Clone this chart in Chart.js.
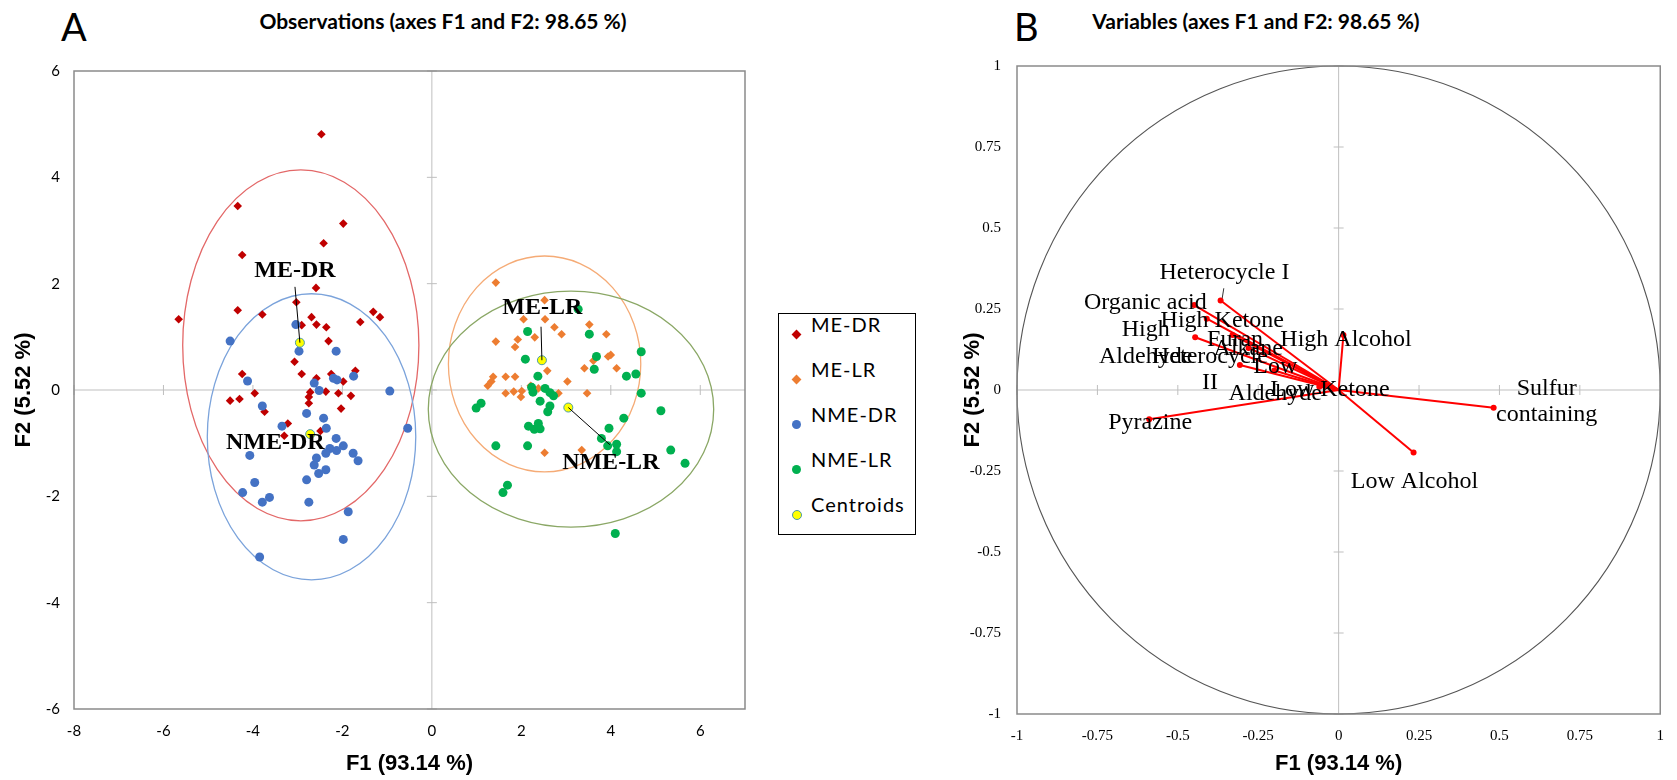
<!DOCTYPE html>
<html>
<head>
<meta charset="utf-8">
<script src="https://cdn.jsdelivr.net/npm/chart.js@4.4.1/dist/chart.umd.min.js"></script>
<style>
  html, body { margin: 0; padding: 0; background: #fff; }
  #page { position: relative; width: 1677px; height: 780px; overflow: hidden; }
  #obsBox { position: absolute; left: 0; top: 0; width: 760px; height: 780px; }
  #varBox { position: absolute; left: 930px; top: 0; width: 747px; height: 780px; }
  .panel { position: absolute; top: 7px; font: 38px Lato; line-height: 38px; color: #000; }
  .title { position: absolute; top: 9px; width: 600px; text-align: center; font: bold 21px Lato; line-height: 24px; color: #000; }
  #legend { position: absolute; left: 778px; top: 313px; width: 136px; height: 220px; border: 1.5px solid #000; background: #fff; }
  .item { position: relative; height: 45px; line-height: 45px; font: 20px Lato; letter-spacing: 1px; color: #000; padding-left: 32px; }
  .mark { position: absolute; left: 13px; top: 18px; width: 9px; height: 9px; }
</style>
</head>
<body>
<div id="page">
  <div class="panel" style="left:61px">A</div>
  <div class="panel" style="left:1014px">B</div>
  <div class="title" style="left:143px">Observations (axes F1 and F2: 98.65 %)</div>
  <div class="title" style="left:956px">Variables (axes F1 and F2: 98.65 %)</div>
  <div id="obsBox"><canvas id="obsChart"></canvas></div>
  <div id="varBox"><canvas id="varChart"></canvas></div>
  <div id="legend"></div>
</div>
<script>
// ---- observations (F1, F2 scores) ----
const meDrF1 = [-2.47, -4.34, -1.98, -2.42, -4.24, -2.59, -3.03, -5.66, -4.34, -3.79, -2.69, -2.58, -2.36,
  -2.91, -1.60, -1.31, -1.16, -2.31, -3.07, -2.91, -4.24, -2.58, -2.25, -1.98, -1.71, -3.96, -4.51, -4.30,
  -2.72, -2.37, -2.09, -1.81, -2.75, -2.75, -3.74, -2.03, -3.22, -3.30, -2.49];
const meDrF2 = [4.81, 3.46, 3.13, 2.76, 2.54, 1.92, 1.65, 1.33, 1.50, 1.42, 1.37, 1.23, 1.18,
  1.22, 1.28, 1.47, 1.37, 0.92, 0.53, 0.30, 0.30, 0.22, 0.30, 0.16, 0.36, -0.06, -0.20, -0.17,
  -0.04, -0.03, -0.06, -0.11, -0.13, -0.25, -0.41, -0.35, -0.63, -0.86, -0.77];

const meLrF1 = [1.43, 2.52, 2.05, 2.53, 2.74, 3.52, 2.90, 2.30, 3.90, 1.43, 1.92, 1.86, 4.00, 3.94, 3.61,
  3.41, 4.13, 2.58, 1.37, 1.65, 1.86, 1.33, 1.25, 3.03, 2.21, 1.65, 1.83, 2.01, 1.99, 2.83, 3.47, 2.52,
  3.35, 2.38];
const meLrF2 = [2.02, 1.69, 1.33, 1.33, 1.18, 1.23, 1.05, 0.99, 1.05, 0.91, 0.95, 0.81, 0.66, 0.63, 0.55,
  0.41, 0.41, 0.36, 0.25, 0.25, 0.25, 0.16, 0.08, 0.16, 0.08, -0.06, -0.03, -0.02, -0.13, -0.06, -0.06, -1.18,
  -1.13, 0.03];

const nmeDrF1 = [-3.04, -4.51, -2.97, -2.14, -4.12, -2.63, -2.20, -2.12, -1.75, -2.52, -0.94, -3.79, -2.80,
  -2.42, -3.35, -2.36, -0.54, -2.14, -1.98, -2.28, -2.13, -2.37, -4.07, -1.76, -1.65, -2.58, -2.63, -2.37,
  -2.53, -2.80, -3.96, -4.23, -3.63, -3.79, -2.75, -1.87, -1.98, -3.85];
const nmeDrF2 = [1.23, 0.92, 0.73, 0.73, 0.17, 0.13, 0.22, 0.19, 0.26, -0.01, -0.02, -0.30, -0.44,
  -0.53, -0.68, -0.72, -0.72, -0.91, -1.05, -1.10, -1.14, -1.19, -1.23, -1.19, -1.33, -1.28, -1.41, -1.50,
  -1.57, -1.69, -1.74, -1.93, -2.02, -2.11, -2.11, -2.29, -2.81, -3.14];

const nmeLrF1 = [3.27, 2.14, 3.52, 2.09, 3.68, 4.68, 3.63, 2.37, 4.35, 4.56, 2.23, 2.26, 2.53, 2.64, 2.72,
  4.68, 2.42, 2.64, 1.10, 0.99, 2.59, 5.12, 4.29, 2.16, 2.38, 2.29, 2.42, 3.96, 3.79, 4.13, 3.93, 4.13,
  1.43, 2.14, 5.34, 5.66, 1.69, 1.59, 4.10];
const nmeLrF2 = [1.52, 1.10, 1.05, 0.58, 0.63, 0.72, 0.39, 0.26, 0.26, 0.30, 0.05, -0.04, 0.03, -0.05, -0.11,
  -0.06, -0.21, -0.30, -0.25, -0.34, -0.41, -0.39, -0.53, -0.68, -0.63, -0.74, -0.73, -0.72, -0.91, -1.02, -1.05, -1.16,
  -1.05, -1.05, -1.13, -1.38, -1.79, -1.93, -2.70];

// groups: ME-DR, ME-LR, NME-DR, NME-LR
const groupNames = ['ME-DR', 'ME-LR', 'NME-DR', 'NME-LR'];
const groupColors = ['#c00000', '#ed7d31', '#4472c4', '#00b050'];
const groupShapes = ['rectRot', 'rectRot', 'circle', 'circle'];
const centroidF1 = [-2.95, 2.46, -2.72, 3.05];
const centroidF2 = [0.89, 0.56, -0.83, -0.33];
const groupLabelF1 = [-3.06, 2.47, -3.50, 4.00];
const groupLabelF2 = [2.24, 1.54, -1.00, -1.37];
const leaderF1 = [-3.06, 2.44, null, 3.98];
const leaderF2 = [1.94, 1.19, null, -1.03];

// confidence ellipses (centre and half-axes in F1/F2 units)
const ellipseF1 = [-2.93, 2.52, -2.69, 3.11];
const ellipseF2 = [0.84, 0.49, -0.88, -0.36];
const ellipseR1 = [2.64, 2.15, 2.33, 3.19];
const ellipseR2 = [3.30, 2.03, 2.69, 2.22];
const ellipseColors = ['#e36868', '#f5ab76', '#7ba3db', '#8aa765'];

const obsTicksX = [-8, -6, -4, -2, 0, 2, 4, 6];

// ---- variables (loadings) ----
const varNames = ['Heterocycle I', 'Organic acid', 'High Ketone', 'High Aldehyde', 'Furan', 'Alkane',
  'Heterocycle II', 'Low Aldehyde', 'Low Ketone', 'High Alcohol', 'Pyrazine', 'Sulfur containing', 'Low Alcohol'];
const varF1 = [-0.367, -0.449, -0.410, -0.446, -0.330, -0.280, -0.307, -0.200, -0.060, 0.015, -0.589, 0.482, 0.233];
const varF2 = [0.276, 0.262, 0.220, 0.163, 0.170, 0.130, 0.077, 0.060, 0.010, 0.170, -0.090, -0.055, -0.193];
const varLabelLines = [['Heterocycle I'], ['Organic acid'], ['High Ketone'], ['High', 'Aldehyde'], ['Furan'], ['Alkane'],
  ['Heterocycle', 'II'], ['Low', 'Aldehyde'], ['Low Ketone'], ['High Alcohol'], ['Pyrazine'], ['Sulfur', 'containing'], ['Low Alcohol']];
const varLabelF1 = [-0.355, -0.601, -0.362, -0.600, -0.322, -0.281, -0.400, -0.197, -0.027, 0.023, -0.586, 0.647, 0.236];
const varLabelF2 = [0.362, 0.268, 0.214, 0.144, 0.154, 0.129, 0.062, 0.031, 0.000, 0.154, -0.101, -0.036, -0.283];
const hetLeaderF1 = [-0.357, -0.362];
const hetLeaderF2 = [0.314, 0.283];

// ---------- legend (html) ----------
const legendEl = document.getElementById('legend');
const legendNames = groupNames.concat(['Centroids']);
legendNames.forEach((name, i) => {
  const row = document.createElement('div');
  row.className = 'item';
  const mark = document.createElement('span');
  mark.className = 'mark';
  if (i < 4) {
    mark.style.background = groupColors[i];
    if (groupShapes[i] === 'rectRot') {
      mark.style.width = '7px'; mark.style.height = '7px';
      mark.style.left = '14px'; mark.style.top = '19px';
      mark.style.transform = 'rotate(45deg)';
    } else {
      mark.style.borderRadius = '50%';
    }
  } else {
    mark.style.background = '#ffff00';
    mark.style.border = '1px solid #4a9aa8';
    mark.style.width = '8px'; mark.style.height = '8px';
    mark.style.borderRadius = '50%';
  }
  row.appendChild(mark);
  row.appendChild(document.createTextNode(name));
  legendEl.appendChild(row);
});
legendEl.firstChild.style.marginTop = '-2px';

// ---------- shared drawing helpers ----------
function zeroAxes(chart, tickLen) {
  const { ctx, chartArea: a, scales: { x, y } } = chart;
  const x0 = x.getPixelForValue(0), y0 = y.getPixelForValue(0);
  ctx.save();
  ctx.strokeStyle = '#bfbfbf';
  ctx.lineWidth = 1;
  ctx.beginPath();
  ctx.moveTo(a.left, y0); ctx.lineTo(a.right, y0);
  ctx.moveTo(x0, a.top); ctx.lineTo(x0, a.bottom);
  x.ticks.forEach(t => {
    const px = x.getPixelForValue(t.value);
    ctx.moveTo(px, y0 - tickLen); ctx.lineTo(px, y0 + tickLen);
  });
  y.ticks.forEach(t => {
    const py = y.getPixelForValue(t.value);
    ctx.moveTo(x0 - tickLen, py); ctx.lineTo(x0 + tickLen, py);
  });
  ctx.stroke();
  ctx.restore();
}

function frame(chart, color) {
  const { ctx, chartArea: a } = chart;
  ctx.save();
  ctx.strokeStyle = color;
  ctx.lineWidth = 1.5;
  ctx.strokeRect(a.left, a.top, a.width, a.height);
  ctx.restore();
}

// ---------- observations chart ----------
const obsDecor = {
  id: 'obsDecor',
  beforeDatasetsDraw(chart) {
    const { ctx, scales: { x, y } } = chart;
    zeroAxes(chart, 5);
    ctx.save();
    ellipseF1.forEach((cx, i) => {
      const px = x.getPixelForValue(cx), py = y.getPixelForValue(ellipseF2[i]);
      const rx = Math.abs(x.getPixelForValue(cx + ellipseR1[i]) - px);
      const ry = Math.abs(y.getPixelForValue(ellipseF2[i] + ellipseR2[i]) - py);
      ctx.beginPath();
      ctx.ellipse(px, py, rx, ry, 0, 0, Math.PI * 2);
      ctx.strokeStyle = ellipseColors[i];
      ctx.lineWidth = 1.3;
      ctx.stroke();
    });
    ctx.restore();
  },
  afterDatasetsDraw(chart) {
    const { ctx, scales: { x, y } } = chart;
    ctx.save();
    // leader lines from centroid to label
    ctx.strokeStyle = '#000';
    ctx.lineWidth = 1;
    leaderF1.forEach((lx, i) => {
      if (lx === null) return;
      ctx.beginPath();
      ctx.moveTo(x.getPixelForValue(centroidF1[i]), y.getPixelForValue(centroidF2[i]));
      ctx.lineTo(x.getPixelForValue(lx), y.getPixelForValue(leaderF2[i]));
      ctx.stroke();
    });
    ctx.font = 'bold 24px "Liberation Serif"';
    ctx.fillStyle = '#000';
    ctx.textAlign = 'center';
    ctx.textBaseline = 'middle';
    groupNames.forEach((name, i) => {
      ctx.fillText(name, x.getPixelForValue(groupLabelF1[i]), y.getPixelForValue(groupLabelF2[i]));
    });
    ctx.restore();
    frame(chart, '#8a8a8a');
  }
};

function pairs(f1, f2) {
  return f1.map((v, i) => ({ x: v, y: f2[i] }));
}

const obsSets = [[meDrF1, meDrF2], [meLrF1, meLrF2], [nmeDrF1, nmeDrF2], [nmeLrF1, nmeLrF2]];
const obsDatasets = obsSets.map(([f1, f2], i) => ({
  label: groupNames[i],
  data: pairs(f1, f2),
  pointStyle: groupShapes[i],
  pointRadius: groupShapes[i] === 'rectRot' ? 4.3 : 4.5,
  backgroundColor: groupColors[i],
  borderWidth: 0,
  order: 4 - i
}));
obsDatasets.push({
  label: 'Centroids',
  data: pairs(centroidF1, centroidF2),
  pointStyle: 'circle',
  pointRadius: 4.5,
  backgroundColor: '#ffff00',
  borderColor: '#4a9aa8',
  borderWidth: 1,
  order: 0
});

new Chart(document.getElementById('obsChart'), {
  type: 'scatter',
  data: { datasets: obsDatasets },
  options: {
    responsive: true,
    maintainAspectRatio: false,
    animation: false,
    layout: { padding: { left: 0, right: 15, top: 71, bottom: 0 } },
    plugins: {
      legend: { display: false },
      tooltip: { enabled: false }
    },
    scales: {
      x: {
        type: 'linear',
        min: -8,
        max: 7,
        afterBuildTicks: s => { s.ticks = obsTicksX.map(v => ({ value: v })); },
        afterFit: s => { s.height = 71; },
        grid: { display: false, drawTicks: false },
        border: { display: false },
        ticks: { color: '#000', font: { family: 'Lato', size: 15 }, padding: 13 },
        title: {
          display: true, text: 'F1 (93.14 %)', color: '#000',
          font: { family: 'Liberation Sans', size: 22, weight: 'bold' },
          padding: { top: 0, bottom: 2.8 }
        }
      },
      y: {
        type: 'linear',
        min: -6,
        max: 6,
        afterFit: s => { s.width = 74; },
        grid: { display: false, drawTicks: false },
        border: { display: false },
        ticks: { stepSize: 2, color: '#000', font: { family: 'Lato', size: 15 }, padding: 14 },
        title: {
          display: true, text: 'F2 (5.52 %)', color: '#000',
          font: { family: 'Liberation Sans', size: 22, weight: 'bold' },
          padding: { top: 10.8, bottom: 0 }
        }
      }
    }
  },
  plugins: [obsDecor]
});

// ---------- variables chart ----------
const varDecor = {
  id: 'varDecor',
  beforeDatasetsDraw(chart) {
    const { ctx, scales: { x, y } } = chart;
    zeroAxes(chart, 5);
    ctx.save();
    const cx = x.getPixelForValue(0), cy = y.getPixelForValue(0);
    ctx.beginPath();
    ctx.ellipse(cx, cy, Math.abs(x.getPixelForValue(1) - cx), Math.abs(y.getPixelForValue(1) - cy), 0, 0, Math.PI * 2);
    ctx.strokeStyle = '#555';
    ctx.lineWidth = 1.1;
    ctx.stroke();
    ctx.restore();
  },
  afterDatasetsDraw(chart) {
    const { ctx, scales: { x, y } } = chart;
    ctx.save();
    ctx.strokeStyle = '#333';
    ctx.lineWidth = 1;
    ctx.beginPath();
    ctx.moveTo(x.getPixelForValue(hetLeaderF1[0]), y.getPixelForValue(hetLeaderF2[0]));
    ctx.lineTo(x.getPixelForValue(hetLeaderF1[1]), y.getPixelForValue(hetLeaderF2[1]));
    ctx.stroke();
    ctx.font = '24px "Liberation Serif"';
    ctx.fillStyle = '#000';
    ctx.textAlign = 'center';
    ctx.textBaseline = 'middle';
    varLabelLines.forEach((lines, i) => {
      const px = x.getPixelForValue(varLabelF1[i]);
      const py = y.getPixelForValue(varLabelF2[i]);
      lines.forEach((line, k) => {
        ctx.fillText(line, px, py + (k - (lines.length - 1) / 2) * 26.5);
      });
    });
    ctx.restore();
    frame(chart, '#8a8a8a');
  }
};

const varDatasets = varNames.map((name, i) => ({
  label: name,
  data: [{ x: 0, y: 0 }, { x: varF1[i], y: varF2[i] }],
  showLine: true,
  borderColor: '#ff0000',
  borderWidth: 2,
  backgroundColor: '#ff0000',
  pointBorderWidth: 0,
  pointRadius: c => (c.dataIndex === 1 ? 3 : 0)
}));

const loadingTick = v => String(v);

new Chart(document.getElementById('varChart'), {
  type: 'scatter',
  data: { datasets: varDatasets },
  options: {
    responsive: true,
    maintainAspectRatio: false,
    animation: false,
    layout: { padding: { left: 0, right: 3, top: 66, bottom: 0 } },
    plugins: {
      legend: { display: false },
      tooltip: { enabled: false }
    },
    scales: {
      x: {
        type: 'linear',
        min: -1,
        max: 1,
        afterFit: s => { s.height = 66; },
        grid: { display: false, drawTicks: false },
        border: { display: false },
        ticks: { stepSize: 0.25, callback: loadingTick, color: '#000', font: { family: 'Liberation Serif', size: 15 }, padding: 13 },
        title: {
          display: true, text: 'F1 (93.14 %)', color: '#000',
          font: { family: 'Liberation Sans', size: 22, weight: 'bold' },
          padding: { top: 0, bottom: 2.8 }
        }
      },
      y: {
        type: 'linear',
        min: -1,
        max: 1,
        afterFit: s => { s.width = 87; },
        grid: { display: false, drawTicks: false },
        border: { display: false },
        ticks: { stepSize: 0.25, callback: loadingTick, color: '#000', font: { family: 'Liberation Serif', size: 15 }, padding: 16 },
        title: {
          display: true, text: 'F2 (5.52 %)', color: '#000',
          font: { family: 'Liberation Sans', size: 22, weight: 'bold' },
          padding: { top: 29.8, bottom: 0 }
        }
      }
    }
  },
  plugins: [varDecor]
});
</script>
</body>
</html>
